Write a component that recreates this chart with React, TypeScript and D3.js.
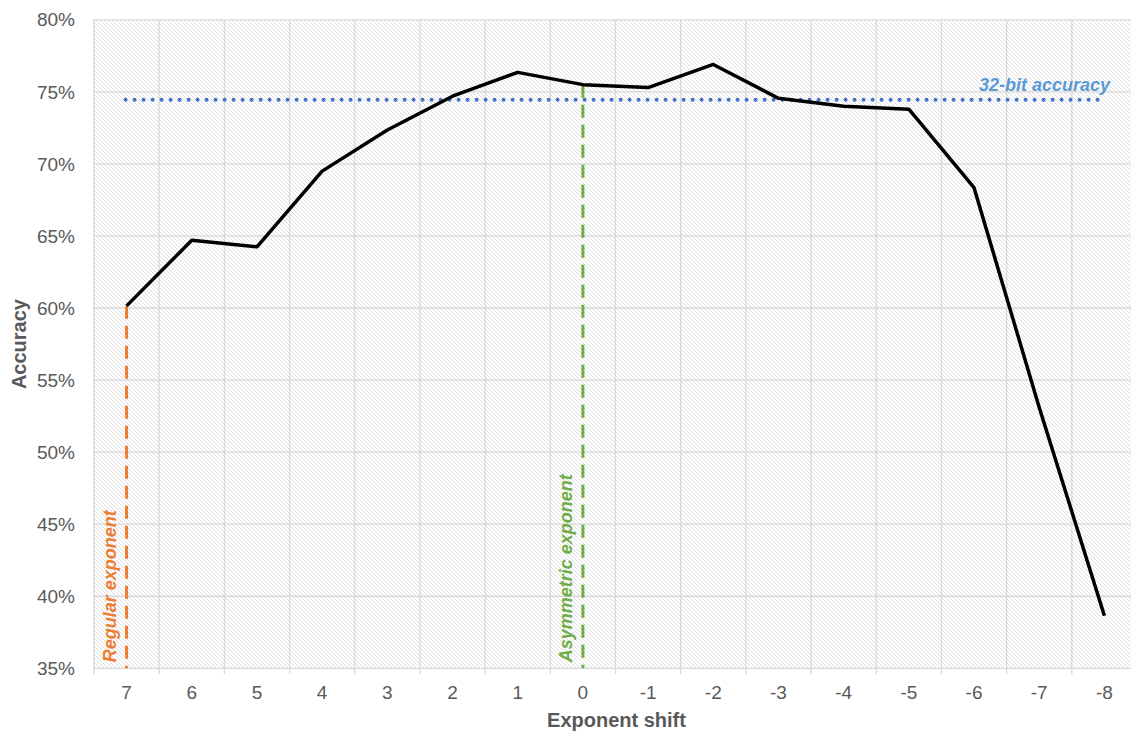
import { useEffect, useRef } from "react"
import * as d3 from "d3"

// exponent shift categories, left to right
const shifts = ["7", "6", "5", "4", "3", "2", "1", "0", "-1", "-2", "-3", "-4", "-5", "-6", "-7", "-8"]
// accuracy (%) per shift
const accuracy = [60.15, 64.7, 64.25, 69.5, 72.35, 74.7, 76.35, 75.5, 75.3, 76.9, 74.55, 74.0, 73.8, 68.35, 53.1, 38.65]
const yTicks = [35, 40, 45, 50, 55, 60, 65, 70, 75, 80]
const baseline32 = 74.45
const regularShift = "7"
const asymShift = "0"

export default function App() {
  const svgRef = useRef<SVGSVGElement>(null)

  useEffect(() => {
    if (!svgRef.current) return
    const root = d3.select(svgRef.current)
    root.selectAll("*").remove()

    const W = 1131
    const H = 733
    const left = 94
    const right = 1137
    const top = 19.8
    const bottom = 668.3
    const font = "'Liberation Sans', Arial, sans-serif"

    const x = d3.scaleBand().domain(shifts).range([left, right])
    const y = d3.scaleLinear().domain([35, 80]).range([bottom, top])
    const cx = (s: string) => (x(s) as number) + x.bandwidth() / 2

    root.attr("width", W).attr("height", H)

    // hatched background
    const defs = root.append("defs")
    const pat = defs
      .append("pattern")
      .attr("id", "hatch")
      .attr("patternUnits", "userSpaceOnUse")
      .attr("width", 4)
      .attr("height", 4)
    pat.append("rect").attr("width", 4).attr("height", 4).attr("fill", "#ffffff")
    pat
      .append("path")
      .attr("d", "M0,0 L4,4 M-1,3 L1,5 M3,-1 L5,1")
      .attr("stroke", "#dedede")
      .attr("stroke-width", 1)

    root
      .append("rect")
      .attr("x", left)
      .attr("y", top)
      .attr("width", right - left)
      .attr("height", bottom - top)
      .attr("fill", "url(#hatch)")

    // horizontal gridlines
    root
      .append("g")
      .selectAll("line")
      .data(yTicks)
      .enter()
      .append("line")
      .attr("x1", left)
      .attr("x2", right)
      .attr("y1", (d) => y(d))
      .attr("y2", (d) => y(d))
      .attr("stroke", "#d9d9d9")
      .attr("stroke-width", 1.3)

    // vertical gridlines (band edges), extend below as tick marks
    const edges = shifts.map((s) => x(s) as number).concat([right])
    root
      .append("g")
      .selectAll("line")
      .data(edges)
      .enter()
      .append("line")
      .attr("x1", (d) => d)
      .attr("x2", (d) => d)
      .attr("y1", top)
      .attr("y2", bottom + 6)
      .attr("stroke", "#d9d9d9")
      .attr("stroke-width", 1.3)

    // y tick labels
    root
      .append("g")
      .selectAll("text")
      .data(yTicks)
      .enter()
      .append("text")
      .attr("x", 75)
      .attr("y", (d) => y(d))
      .attr("dy", "0.35em")
      .attr("text-anchor", "end")
      .attr("font-family", font)
      .attr("font-size", 19)
      .attr("fill", "#595959")
      .text((d) => `${d}%`)

    // x tick labels
    root
      .append("g")
      .selectAll("text")
      .data(shifts)
      .enter()
      .append("text")
      .attr("x", (d) => cx(d))
      .attr("y", 692)
      .attr("dy", "0.35em")
      .attr("text-anchor", "middle")
      .attr("font-family", font)
      .attr("font-size", 19)
      .attr("fill", "#595959")
      .text((d) => d)

    // axis titles
    root
      .append("text")
      .attr("x", (left + right) / 2 + 1)
      .attr("y", 720)
      .attr("dy", "0.35em")
      .attr("text-anchor", "middle")
      .attr("font-family", font)
      .attr("font-size", 20)
      .attr("font-weight", "bold")
      .attr("fill", "#595959")
      .text("Exponent shift")

    root
      .append("text")
      .attr("transform", `translate(19,${(top + bottom) / 2}) rotate(-90)`)
      .attr("dy", "0.35em")
      .attr("text-anchor", "middle")
      .attr("font-family", font)
      .attr("font-size", 20)
      .attr("font-weight", "bold")
      .attr("fill", "#595959")
      .text("Accuracy")

    // 32-bit reference line
    root
      .append("line")
      .attr("x1", cx(shifts[0]) - 1)
      .attr("x2", cx(shifts[shifts.length - 1]))
      .attr("y1", y(baseline32))
      .attr("y2", y(baseline32))
      .attr("stroke", "#4472c4")
      .attr("stroke-width", 4)
      .attr("stroke-linecap", "round")
      .attr("stroke-dasharray", "0 9")

    root
      .append("text")
      .attr("x", 1110)
      .attr("y", 91)
      .attr("text-anchor", "end")
      .attr("font-family", font)
      .attr("font-size", 18)
      .attr("font-weight", "bold")
      .attr("font-style", "italic")
      .attr("fill", "#5b9bd5")
      .text("32-bit accuracy")

    // vertical markers
    const markers = [
      { shift: regularShift, color: "#ed7d31", label: "Regular exponent" },
      { shift: asymShift, color: "#70ad47", label: "Asymmetric exponent" },
    ]
    markers.forEach((m) => {
      const i = shifts.indexOf(m.shift)
      const mx = cx(m.shift)
      root
        .append("line")
        .attr("x1", mx)
        .attr("x2", mx)
        .attr("y1", y(accuracy[i]))
        .attr("y2", bottom)
        .attr("stroke", m.color)
        .attr("stroke-width", 3)
        .attr("stroke-dasharray", "13 7")
      root
        .append("text")
        .attr("transform", `translate(${mx - 11},${bottom - 6}) rotate(-90)`)
        .attr("font-family", font)
        .attr("font-size", 18)
        .attr("font-weight", "bold")
        .attr("font-style", "italic")
        .attr("fill", m.color)
        .text(m.label)
    })

    // accuracy line
    const line = d3
      .line<number>()
      .x((_, i) => cx(shifts[i]))
      .y((d) => y(d))

    root
      .append("path")
      .datum(accuracy)
      .attr("fill", "none")
      .attr("stroke", "#000000")
      .attr("stroke-width", 3.5)
      .attr("stroke-linejoin", "round")
      .attr("d", line)
  }, [])

  return (
    <div style={{ position: "absolute", left: 0, top: 0, width: 1131, height: 733, overflow: "hidden", background: "#fff" }}>
      <svg ref={svgRef} style={{ display: "block" }}></svg>
    </div>
  )
}
